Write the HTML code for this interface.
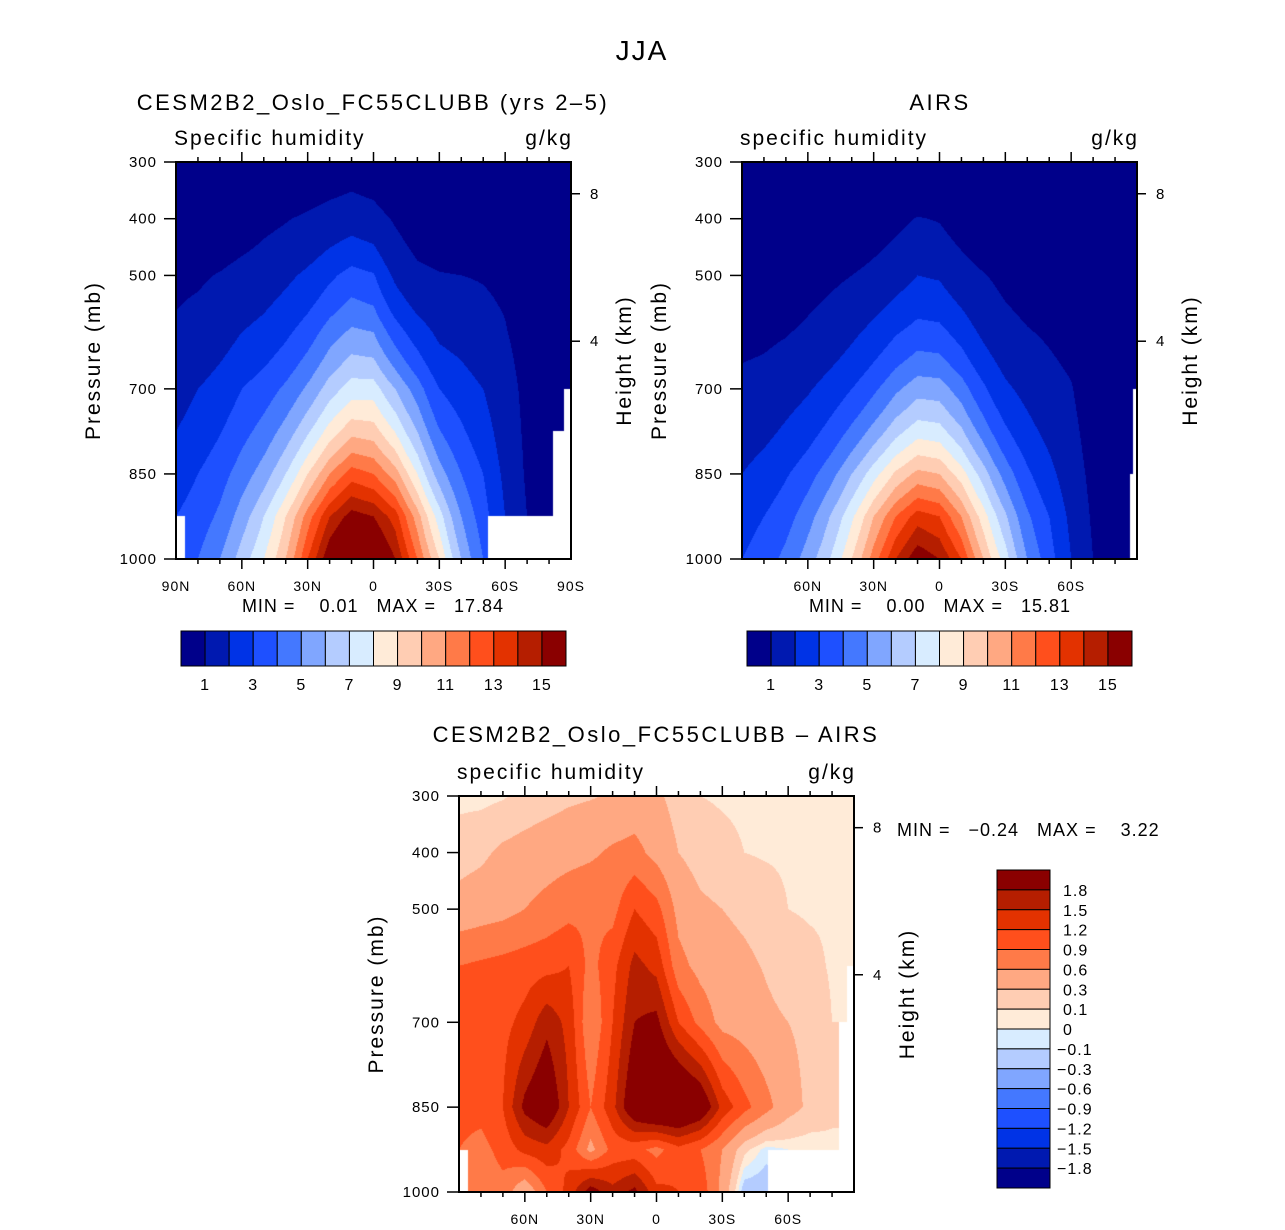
<!DOCTYPE html>
<html><head><meta charset="utf-8">
<style>
html,body{margin:0;padding:0;background:#fff;}
#root{position:relative;width:1285px;height:1230px;overflow:hidden;font-family:"Liberation Sans",sans-serif;}
canvas{position:absolute;}
svg{position:absolute;left:0;top:0;}
text{font-family:"Liberation Sans",sans-serif;fill:#000;white-space:pre;}
</style></head>
<body>
<div id="root">
<canvas id="c1"></canvas>
<canvas id="c2"></canvas>
<canvas id="c3"></canvas>
<svg id="ov" width="1285" height="1230"></svg>
</div>
<script>
// ---- data ----
const lats=[90,80,70,60,50,40,30,20,10,0,-10,-20,-30,-40,-50,-60,-70,-80,-90];
const pressures=[300,400,500,600,700,850,925,1000];
// model specific humidity (g/kg), rows by pressure
const modelQ300=[0.1,0.12,0.15,0.2,0.25,0.3,0.4,0.5,0.6,0.5,0.3,0.2,0.15,0.15,0.15,0.12,0.1,0.05,0.05];
const modelQ400=[0.4,0.45,0.5,0.6,0.8,0.95,1.15,1.4,1.6,1.4,0.9,0.6,0.5,0.5,0.45,0.4,0.3,0.12,0.08];
const modelQ500=[0.85,0.9,1.05,1.3,1.5,1.8,2.2,2.8,3.4,3.1,1.8,1.2,1.05,1,0.95,0.85,0.5,0.2,0.1];
const modelQ600=[1.1,1.3,1.6,2,2.3,2.8,3.5,4.5,5.2,5,3.5,2.5,1.8,1.6,1.3,1.05,0.7,0.3,0.15];
const modelQ700=[1.6,2,2.4,3,3.5,4.2,5.2,6.5,7.5,7.5,6,4.5,3,2.5,2,1.4,0.8,0.35,0.2];
const modelQ850=[2.5,3,3.6,4.5,5.5,7,9,11,12.5,12,10.5,8,5.5,4,3,1.8,0.9,0.4,0.25];
const modelQ925=[3,3.5,4.2,5.5,7,9,11.5,14,15.5,15,13.5,10.5,7.5,5,3.5,2,1,0.5,0.3];
const modelQ1000=[3.5,4,5,6.5,8,10,13,16,17.8,17,15,12,9,6,4,2.5,1.2,0.5,0.3];
// AIRS
const airsQ300=[0.05,0.06,0.07,0.08,0.1,0.12,0.15,0.2,0.28,0.25,0.16,0.1,0.08,0.07,0.06,0.05,0.04,0.03,0.03];
const airsQ400=[0.2,0.22,0.25,0.3,0.38,0.45,0.6,0.8,1.05,0.95,0.65,0.45,0.35,0.3,0.25,0.2,0.15,0.07,0.05];
const airsQ500=[0.45,0.5,0.55,0.7,0.85,1,1.25,1.6,2,1.9,1.4,1.05,0.8,0.65,0.55,0.45,0.3,0.12,0.08];
const airsQ600=[0.8,0.85,0.95,1.15,1.4,1.8,2.3,2.9,3.4,3.3,2.6,1.8,1.3,1.05,0.9,0.75,0.45,0.2,0.12];
const airsQ700=[1.2,1.3,1.6,1.9,2.4,3,3.8,4.8,5.6,5.5,4.5,3.2,2.2,1.7,1.3,1.05,0.6,0.25,0.15];
const airsQ850=[2,2.4,2.9,3.6,4.6,6,7.6,9.2,10.3,10,8.5,6.5,4.6,3.2,2.3,1.5,0.8,0.35,0.2];
const airsQ925=[2.6,3,3.6,4.6,6,7.8,10,12,13.5,13,11,8.5,6.2,4.2,3,1.8,0.9,0.4,0.25];
const airsQ1000=[3,3.5,4.3,5.5,7,9,11.5,14,15.8,15,13,10,7.5,5,3.5,2,1,0.5,0.3];
// difference (model - AIRS)
const diff300=[0.05,0.05,0.08,0.15,0.2,0.25,0.28,0.32,0.4,0.35,0.2,0.1,0.08,0.07,0.06,0.06,0.05,0.05,0.05];
const diff400=[0.2,0.25,0.35,0.4,0.45,0.5,0.55,0.65,0.7,0.5,0.3,0.2,0.15,0.1,0.08,0.07,0.06,0.06,0.06];
const diff500=[0.4,0.45,0.5,0.6,0.7,0.8,0.85,0.8,1.2,1.0,0.5,0.35,0.3,0.25,0.2,0.1,0.08,0.08,0.08];
const diff600=[0.9,0.95,1.0,1.05,1.1,1.2,0.8,1.1,1.6,1.4,0.7,0.5,0.4,0.35,0.28,0.2,0.15,0.08,0.08];
const diff700=[1.0,1.0,1.1,1.3,1.7,1.4,0.6,1.2,1.8,1.9,1.2,0.8,0.5,0.45,0.35,0.3,0.25,0.1,0.1];
const diff850=[1.0,1.0,1.2,1.9,2.2,1.5,0.9,1.4,2.2,2.5,2.5,2.2,1.4,1.0,0.7,0.4,0.25,0.15,0.1];
const diff925=[0.9,0.8,1.0,1.3,1.4,1.1,0.5,1.0,1.0,0.8,1.1,0.9,0.6,0.15,-0.05,0,0,0.05,0.1];
const diff1000=[0.7,0.7,0.8,0.3,0.9,1.3,2.0,1.6,1.9,1.3,1.2,1.1,0.5,-0.2,-0.2,0,0,0,0];
// missing-data masks [latFrom, latTo, pressureTop]
const modelMask=[[90,86,925],[-52,-90,925],[-82,-90,775],[-87,-90,700]];
const airsMask=[[-87,-90,850],[-88,-90,700]];
const diffMask=[[90,86,925],[-51,-90,925],[-83,-90,700],[-87,-90,600]];
const qLevels=[1,2,3,4,5,6,7,8,9,10,11,12,13,14,15];
const dLevels=[-1.8,-1.5,-1.2,-0.9,-0.6,-0.3,-0.1,0,0.1,0.3,0.6,0.9,1.2,1.5,1.8];
const qTickLabels=["1","3","5","7","9","11","13","15"];
const dTickLabels=["1.8","1.5","1.2","0.9","0.6","0.3","0.1","0","\u22120.1","\u22120.3","\u22120.6","\u22120.9","\u22121.2","\u22121.5","\u22121.8"];
const palette=["#00008a","#0019b0","#0033e6","#1e50ff","#4478ff","#80a6ff","#b4ccff","#d8ecff","#ffebd8","#ffcdb3","#ffa882","#ff7a48","#ff4f1c","#e33200","#b51e00","#8a0000"];

const modelGrid=[modelQ300,modelQ400,modelQ500,modelQ600,modelQ700,modelQ850,modelQ925,modelQ1000];
const airsGrid=[airsQ300,airsQ400,airsQ500,airsQ600,airsQ700,airsQ850,airsQ925,airsQ1000];
const diffGrid=[diff300,diff400,diff500,diff600,diff700,diff850,diff925,diff1000];

function hex(c){return [parseInt(c.slice(1,3),16),parseInt(c.slice(3,5),16),parseInt(c.slice(5,7),16)];}
const palRGB=palette.map(hex);

function drawField(id,x0,y0,w,h,grid,levels,useLog,mask){
  const cv=document.getElementById(id);
  cv.width=w;cv.height=h;cv.style.left=x0+'px';cv.style.top=y0+'px';
  const ctx=cv.getContext('2d');const img=ctx.createImageData(w,h);
  for(let py=0;py<h;py++){
    const p=300+(py+0.5)/h*700;
    let j=0;while(j<pressures.length-2&&p>pressures[j+1])j++;
    const fy=(p-pressures[j])/(pressures[j+1]-pressures[j]);
    for(let px=0;px<w;px++){
      const lat=90-(px+0.5)/w*180;
      let masked=false;
      for(const m of mask){if(lat<=m[0]&&lat>=m[1]&&p>=m[2]){masked=true;break;}}
      const k=(py*w+px)*4;
      if(masked){img.data[k]=255;img.data[k+1]=255;img.data[k+2]=255;img.data[k+3]=255;continue;}
      let fi=(90-lat)/10;let i=Math.min(17,Math.floor(fi));const fx=fi-i;
      let a=grid[j][i],b=grid[j][i+1],c=grid[j+1][i],d=grid[j+1][i+1];
      if(useLog){a=Math.log(a);b=Math.log(b);c=Math.log(c);d=Math.log(d);}
      let v=(a*(1-fx)+b*fx)*(1-fy)+(c*(1-fx)+d*fx)*fy;
      if(useLog)v=Math.exp(v);
      let lv=0;while(lv<levels.length&&v>=levels[lv])lv++;
      const col=palRGB[lv];
      img.data[k]=col[0];img.data[k+1]=col[1];img.data[k+2]=col[2];img.data[k+3]=255;
    }
  }
  ctx.putImageData(img,0,0);
}
drawField('c1',176,162,395,397,modelGrid,qLevels,true,modelMask);
drawField('c2',742,162,395,397,airsGrid,qLevels,true,airsMask);
drawField('c3',459,796,395,396,diffGrid,dLevels,false,diffMask);

// ---- overlay ----
const NS="http://www.w3.org/2000/svg";
const ov=document.getElementById('ov');
function mk(tag,attrs,parent){const e=document.createElementNS(NS,tag);for(const k in attrs)e.setAttribute(k,attrs[k]);(parent||ov).appendChild(e);return e;}
function txt(s,x,y,size,anchor,name,rot,ls){
  const t=mk('text',{x:x,y:y,'font-size':size,'text-anchor':anchor||'start'});
  if(ls)t.setAttribute('letter-spacing',ls);
  if(rot)t.setAttribute('transform','rotate(-90 '+x+' '+y+')');
  t.textContent=s;
  
  
  return t;
}
function line(x1,y1,x2,y2,name,wd){
  const l=mk('line',{x1:x1,y1:y1,x2:x2,y2:y2,stroke:'#000','stroke-width':wd||1.5});
  
  
  return l;
}
const pTicks=[300,400,500,600,700,850,925,1000];
const pLabels=["300","400","500","","700","850","","1000"];
const hTicksP=[356,616];const hLabels=["8","4"];
function axes(x0,y0,w,h,sub,xlabShow,prefix){
  const px=p=>y0+(p-300)/700*h;
  const lx=lat=>x0+(90-lat)/180*w;
  const r=mk('rect',{x:x0,y:y0,width:w,height:h,fill:'none',stroke:'#000','stroke-width':2});
  
  
  pTicks.forEach((p,i)=>{
    if(pLabels[i]){line(x0-12,px(p),x0,px(p),prefix+'-y-tick');
    txt(pLabels[i],x0-19,px(p)+5,15,'end',prefix+'-y-tick-label',false,1);}
  });
  hTicksP.forEach((p,i)=>{line(x0+w,px(p),x0+w+9,px(p),prefix+'-height-tick');
    txt(hLabels[i],x0+w+19,px(p)+5,15,'start',prefix+'-height-tick-label');});
  for(let lat=80;lat>=-80;lat-=10){
    const major=lat%30===0;const L=major?10:5;
    line(lx(lat),y0+h,lx(lat),y0+h+L,prefix+'-x-tick');
    line(lx(lat),y0,lx(lat),y0-L,prefix+'-x-top-tick');
  }
  const xl=[[90,"90N"],[60,"60N"],[30,"30N"],[0,"0"],[-30,"30S"],[-60,"60S"],[-90,"90S"]];
  xl.forEach(([lat,s])=>{if(!xlabShow&&Math.abs(lat)===90)return;
    txt(s,lx(lat),y0+h+32,14,'middle',prefix+'-x-tick-label',false,1);});
  txt(sub,x0-2,y0-17,21,'start',prefix+'-variable-label',false,2);
  txt("g/kg",x0+w+2,y0-17,21,'end',prefix+'-units-label',false,2);
  txt("Pressure (mb)",x0-76,y0+h/2,21,'middle',prefix+'-y-axis-title',true,2);
  txt("Height (km)",x0+w+60,y0+h/2,21,'middle',prefix+'-height-axis-title',true,2);
}
txt("JJA",642,60,28,'middle','figure-title',false,2);
txt("CESM2B2_Oslo_FC55CLUBB (yrs 2\u20135)",373,110,22,'middle','model-title',false,2.5);
txt("AIRS",940,110,22,'middle','airs-title',false,2.5);
txt("CESM2B2_Oslo_FC55CLUBB \u2013 AIRS",656,742,22,'middle','difference-title',false,2.5);
axes(176,162,395,397,"Specific humidity",true,'model');
axes(742,162,395,397,"specific humidity",false,'airs');
axes(459,796,395,396,"specific humidity",false,'diff');
txt("MIN =    0.01   MAX =   17.84",373,612,18,'middle','model-min-max',false,1);
txt("MIN =    0.00   MAX =   15.81",940,612,18,'middle','airs-min-max',false,1);
txt("MIN =   \u22120.24   MAX =    3.22",897,836,18,'start','diff-min-max',false,1);

function hbar(x0,y0,prefix){
  const bw=385/16;
  palette.forEach((c,i)=>{const r=mk('rect',{x:x0+i*bw,y:y0,width:bw,height:35,fill:c,stroke:'#000','stroke-width':1});
    
    });
  qTickLabels.forEach((s,i)=>txt(s,x0+(2*i+1)*bw,y0+59,16,'middle',prefix+'-colorbar-label',false,1));
}
hbar(181,631,'model');hbar(747,631,'airs');
(function(){
  const x0=997,y0=870,bh=318/16;
  palette.slice().reverse().forEach((c,i)=>{const r=mk('rect',{x:x0,y:y0+i*bh,width:53,height:bh,fill:c,stroke:'#000','stroke-width':1});
    
    });
  dTickLabels.forEach((s,i)=>txt(s,1063+(s[0]==='\u2212'?-6:0),y0+(i+1)*bh+6,16,'start','diff-colorbar-label',false,1));
})();
</script>
</body></html>
